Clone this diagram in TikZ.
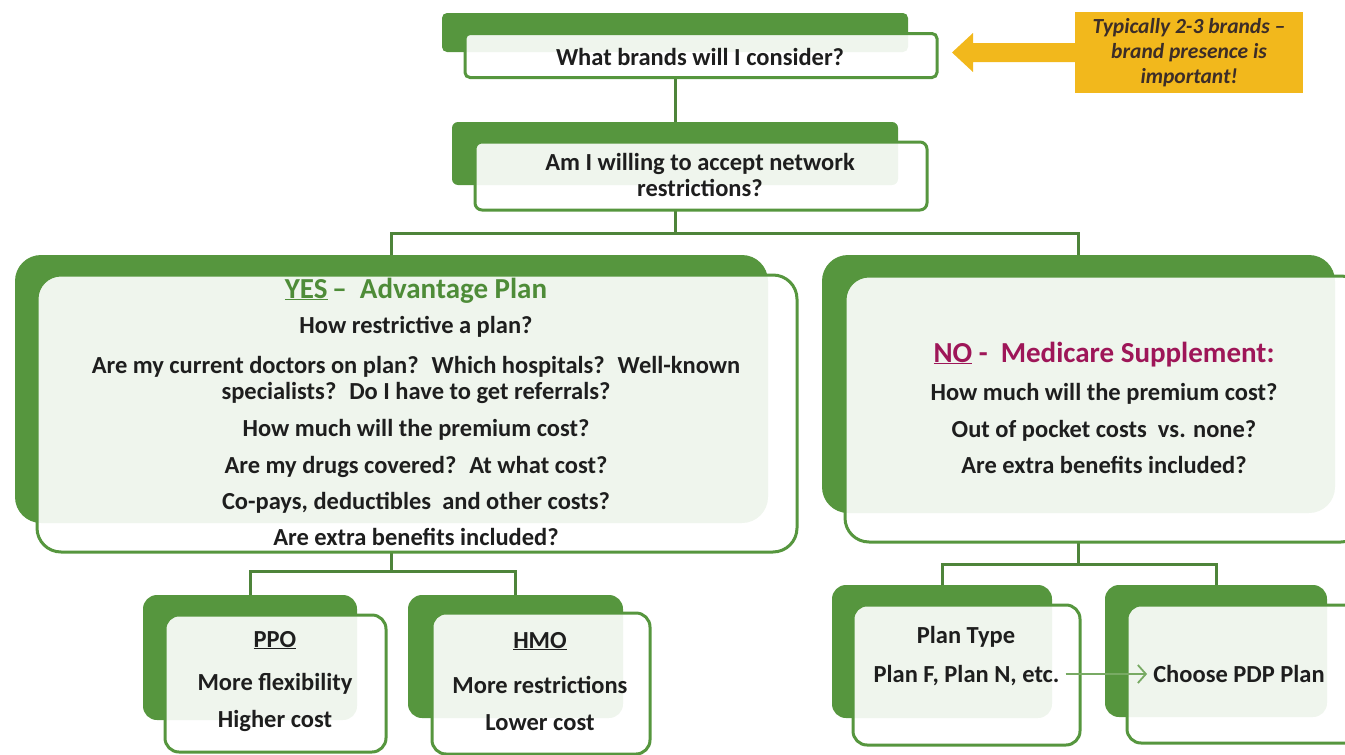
\documentclass[tikz,border=0pt]{standalone}
\usepackage{fontspec}
\setmainfont{Carlito}
\usetikzlibrary{arrows.meta}
\definecolor{gr}{RGB}{86,150,62}
\definecolor{grline}{RGB}{78,132,58}
\definecolor{grlight}{RGB}{120,170,100}
\definecolor{grtext}{RGB}{78,140,56}
\definecolor{crim}{RGB}{158,22,88}
\definecolor{yel}{RGB}{242,184,28}
\definecolor{tx}{RGB}{30,30,30}
\definecolor{calltx}{RGB}{60,45,40}
\begin{document}
\begin{tikzpicture}[x=1pt,y=-1pt,
  back/.style={fill=gr, inner sep=0pt, outer sep=0pt, rounded corners=#1},
  back/.default=6pt,
  front/.style={draw=gr, line width=3pt, fill=white, fill opacity=0.91, text opacity=1,
    rounded corners=#1, inner sep=0pt, outer sep=0pt},
  front/.default=6pt,
  txt/.style={font=\fontsize{24.5}{28}\selectfont\bfseries, text=tx, anchor=base, inner sep=0pt},
  head/.style={font=\fontsize{29}{33}\selectfont\bfseries, anchor=base, inner sep=0pt},
  conn/.style={draw=grline, line width=3pt},
  callbox/.style={fill=yel, inner sep=0pt, outer sep=0pt, align=center, text=calltx,
    font=\fontsize{21.5}{25}\selectfont\bfseries\itshape}
]
\useasboundingbox (0,0) rectangle (1345,755);
\clip (0,0) rectangle (1345,755);

% ---- back boxes
\node[back=5pt, minimum width=466pt, minimum height=39pt] (bb) at (675,32.5) {};
\node[back=6pt, minimum width=446pt, minimum height=63pt] (nb) at (675,153.5) {};
\node[back=26pt, minimum width=753pt, minimum height=268pt] (yb) at (391.5,389) {};
\node[back=26pt, minimum width=513pt, minimum height=258pt] (ob) at (1078.5,384) {};
\node[back=14pt, minimum width=214pt, minimum height=125pt] (pb) at (250,657.5) {};
\node[back=14pt, minimum width=215pt, minimum height=123pt] (hb) at (515.5,656.5) {};
\node[back=14pt, minimum width=220pt, minimum height=133pt] (tb) at (942,651.5) {};
\node[back=14pt, minimum width=222pt, minimum height=132pt] (db) at (1216,651) {};

% ---- connectors
\coordinate (j1) at (675,233);
\coordinate (j2) at (391.5,571);
\coordinate (j3) at (1078.5,564);
\draw[conn] (bb |- 0,78) -- (nb.north);
\draw[conn] (nb |- 0,210) -- (j1);
\draw[conn] (yb.north) |- (j1) -| (ob.north);
\draw[conn] (yb |- 0,552) -- (j2);
\draw[conn] (pb.north) |- (j2) -| (hb.north);
\draw[conn] (ob |- 0,542) -- (j3);
\draw[conn] (tb.north) |- (j3) -| (db.north);

% ---- front boxes
\node[front=5pt, minimum width=472pt, minimum height=44pt] (bf) at (701,55.5) {};
\node[front=7pt, minimum width=452pt, minimum height=68pt] (nf) at (701,176) {};
\node[front=24pt, minimum width=760pt, minimum height=277pt] (yf) at (417,413.5) {};
\node[front=24pt, minimum width=520pt, minimum height=266pt] (of) at (1105,409) {};
\node[front=14pt, minimum width=221pt, minimum height=137pt] (pf) at (275.5,683.5) {};
\node[front=14pt, minimum width=218pt, minimum height=141pt] (hf) at (541,683.5) {};
\node[front=14pt, minimum width=227pt, minimum height=140pt] (tf) at (966.5,675) {};
\node[front=14pt, minimum width=233pt, minimum height=138pt] (df) at (1243.5,674) {};

% ---- texts
\node[txt] (t1) at (700,65) {What brands will I consider?};
\node[txt] (t2) at (700,170) {Am I willing to accept network};
\node[txt] (t3) at (700,196) {restrictions?};

\node[head, text=grtext] (yh) at (416,298) {\underline{YES}\,--~ Advantage Plan};
\node[txt] (y1) at (416,333) {How restrictive a plan?};
\node[txt] (y2) at (416,373) {Are my current doctors on plan?~ Which hospitals?~ Well-known};
\node[txt] (y3) at (416,399) {specialists?~ Do I have to get referrals?};
\node[txt] (y4) at (416,436) {How much will the premium cost?};
\node[txt] (y5) at (416,473) {Are my drugs covered?~ At what cost?};
\node[txt] (y6) at (416,509) {Co-pays, deductibles~ and other costs?};
\node[txt] (y7) at (416,545) {Are extra benefits included?};

\node[head, text=crim] (oh) at (1104,362) {\underline{NO} -~ Medicare Supplement:};
\node[txt] (o1) at (1104,400) {How much will the premium cost?};
\node[txt] (o2) at (1104,437) {Out of pocket costs~ vs. none?};
\node[txt] (o3) at (1104,473) {Are extra benefits included?};

\node[txt] (p1) at (275,647) {\underline{PPO}};
\node[txt] (p2) at (275,690) {More flexibility};
\node[txt] (p3) at (275,727) {Higher cost};

\node[txt] (h1) at (540,648) {\underline{HMO}};
\node[txt] (h2) at (540,693) {More restrictions};
\node[txt] (h3) at (540,730) {Lower cost};

\node[txt] (s1) at (966,643) {Plan Type};
\node[txt] (s2) at (966.5,682) {Plan F, Plan N, etc.};
\node[txt] (s3) at (1239,682) {Choose PDP Plan};

\draw[draw=grlight, line width=1.8pt, -{Straight Barb[length=8pt,width=18pt,line width=1.8pt]}]
  ([xshift=6pt,yshift=8pt]s2.base east) -- ([xshift=-6pt,yshift=8pt]s3.base west);

% ---- callout
\node[callbox, minimum width=228pt, minimum height=81pt] (call) at (1189,52.5)
  {Typically 2-3 brands --\\brand presence is\\important!};
\fill[yel] (call.west |- 0,43) -- (973,43) -- (973,33) -- (952,52.5) -- (973,72)
  -- (973,62) -- (call.west |- 0,62) -- cycle;
\end{tikzpicture}
\end{document}
